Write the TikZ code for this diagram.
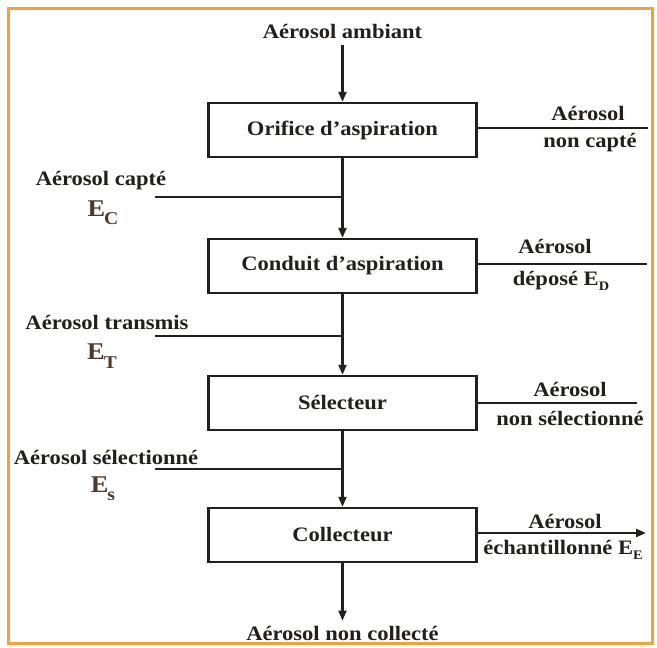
\documentclass[tikz,border=0pt]{standalone}
\usepackage{fontspec}
\setmainfont{Liberation Serif}[FakeStretch=1.1]
\usetikzlibrary{arrows.meta}
\definecolor{frameor}{HTML}{ECA53C}
\definecolor{ink}{HTML}{231F1C}
\definecolor{ebrown}{HTML}{4A3A2C}
\newcommand\sbx[1]{\raisebox{-0.5ex}{\fontsize{13}{13}\selectfont #1}}
\newcommand\esub[1]{\kern-1pt\raisebox{-0.35em}{\fontsize{18}{18}\selectfont #1}}
\begin{document}
\begin{tikzpicture}[x=1pt,y=-1pt,
  box/.style={draw=ink, line width=2.5pt, minimum width=268pt, minimum height=54pt, inner sep=0pt,
              font=\fontsize{20.5}{22}\selectfont\bfseries, text=ink},
  lbl/.style={font=\fontsize{20.5}{22}\selectfont\bfseries, text=ink, inner sep=0pt},
  elbl/.style={font=\fontsize{24}{26}\selectfont\bfseries, text=ebrown, inner sep=0pt},
  conn/.style={draw=ink, line width=2.2pt},
  arr/.style={conn, -{Triangle[length=10pt,width=8pt]}}]
\useasboundingbox (0,0) rectangle (657,648);
\fill[white] (0,0) rectangle (657,648);
\draw[frameor, line width=3pt] (8,8) rectangle (652,643);

% main chain
\node[lbl] (amb) at (342.5,31) {Aérosol ambiant};
\node[box] (b1) at (342.5,130) {Orifice d’aspiration};
\node[box] (b2) at (342.5,266) {Conduit d’aspiration};
\node[box] (b3) at (342.5,403) {Sélecteur};
\node[box] (b4) at (342.5,535) {Collecteur};
\node[lbl] (nc) at (342.5,633) {Aérosol non collecté};

\draw[arr, shorten <=7pt] (amb.south) -- (b1.north);
\draw[arr] (b1.south) -- (b2.north);
\draw[arr] (b2.south) -- (b3.north);
\draw[arr] (b3.south) -- (b4.north);
\draw[arr, shorten >=5pt] (b4.south) -- (b4.south |- nc.north);

% left inputs
\coordinate (c1) at (155,197);
\coordinate (c2) at (155,336);
\coordinate (c3) at (155,469);
\draw[conn] (c1) -- (c1 -| b1.south);
\draw[conn] (c2) -- (c2 -| b2.south);
\draw[conn] (c3) -- (c3 -| b3.south);
\node[lbl] (l1) at (101,181) {Aérosol capté};
\node[elbl] (e1) at (103,213) {E\esub{C}};
\node[lbl] (l2) at (107,322) {Aérosol transmis};
\node[elbl] (e2) at (102,356) {E\esub{T}};
\node[lbl] (l3) at (106,457) {Aérosol sélectionné};
\node[elbl] (e3) at (103,489) {E\esub{s}};

% right outputs
\coordinate (o1) at (648,128);
\coordinate (o2) at (647,264);
\coordinate (o3) at (637,403);
\coordinate (o4) at (646,533);
\draw[conn] (o1 -| b1.east) -- (o1);
\draw[conn] (o2 -| b2.east) -- (o2);
\draw[conn] (o3 -| b3.east) -- (o3);
\draw[arr] (o4 -| b4.east) -- (o4);
\node[lbl] (r1a) at (588,113) {Aérosol};
\node[lbl] (r1b) at (590,143) {non capté};
\node[lbl] (r2a) at (555,246) {Aérosol};
\node[lbl] (r2b) at (561,281) {déposé E\sbx{D}};
\node[lbl] (r3a) at (570,389) {Aérosol};
\node[lbl] (r3b) at (570,418) {non sélectionné};
\node[lbl] (r4a) at (565,521) {Aérosol};
\node[lbl] (r4b) at (563,550) {échantillonné E\sbx{E}};
\end{tikzpicture}
\end{document}
